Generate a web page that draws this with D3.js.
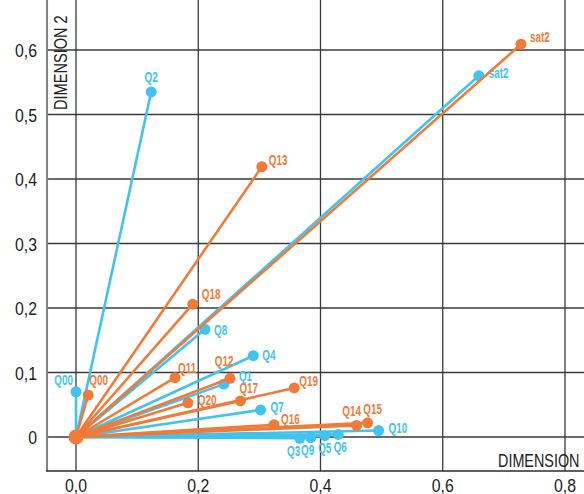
<!DOCTYPE html>
<html>
<head>
<meta charset="utf-8">
<script src="https://cdn.jsdelivr.net/npm/d3@7"></script>
<style>
  html, body { margin: 0; padding: 0; background: #fff; }
  svg { display: block; }
  text { font-family: "Liberation Sans", Arial, sans-serif; }
</style>
</head>
<body>
<svg id="chart" width="584" height="494"></svg>
<script>
// series 1 (blue)
const blueNames = ['Q00', 'Q2', 'Q8', 'Q4', 'Q1', 'Q7', 'Q3', 'Q9', 'Q5', 'Q6', 'Q10', 'sat2']
const blueX = [0.0, 0.123, 0.211, 0.290, 0.242, 0.302, 0.366, 0.384, 0.407, 0.429, 0.495, 0.659]
const blueY = [0.070, 0.535, 0.167, 0.126, 0.082, 0.042, -0.002, -0.001, 0.002, 0.004, 0.010, 0.560]

// series 2 (orange)
const orangeNames = ['Q00', 'Q11', 'Q12', 'Q20', 'Q17', 'Q19', 'Q16', 'Q14', 'Q15', 'Q18', 'Q13', 'sat2']
const orangeX = [0.020, 0.162, 0.252, 0.183, 0.269, 0.357, 0.324, 0.459, 0.477, 0.191, 0.304, 0.728]
const orangeY = [0.065, 0.092, 0.091, 0.053, 0.056, 0.076, 0.019, 0.018, 0.022, 0.206, 0.419, 0.609]

const xTicks = [0, 0.2, 0.4, 0.6, 0.8]
const yTicks = [0, 0.1, 0.2, 0.3, 0.4, 0.5, 0.6]

// label offsets relative to the dot: [dx, dy, anchor]
const blueLabelPos = {
  Q00: [-3, -7, 'end'], Q2: [0, -10, 'middle'], Q8: [9, 6, 'start'], Q4: [9, 4, 'start'],
  Q1: [15, -3, 'start'], Q7: [10, 2, 'start'], Q3: [-6, 18, 'middle'], Q9: [-3, 17, 'middle'],
  Q5: [0, 17, 'middle'], Q6: [2, 18, 'middle'], Q10: [10, 2, 'start'], sat2: [10, 2, 'start']
}
const orangeLabelPos = {
  Q00: [1, -10, 'start'], Q11: [3, -5, 'start'], Q12: [-6, -12, 'middle'], Q20: [10, 2, 'start'],
  Q17: [-1, -8, 'start'], Q19: [5, -2, 'start'], Q16: [7, -1, 'start'], Q14: [-5, -9, 'middle'],
  Q15: [5, -9, 'middle'], Q18: [9, -5, 'start'], Q13: [7, -2, 'start'], sat2: [9, -2, 'start']
}

const blue = '#41c3ef'
const orange = '#f07b38'

const svg = d3.select('#chart')
const x = d3.scaleLinear().domain([0, 0.8]).range([76, 565])
const y = d3.scaleLinear().domain([0, 0.6]).range([437, 50])

const plotLeft = x(-0.0474)
const plotBottom = y(-0.0527)
const plotRight = 584
const plotTop = 0

// condensed look: squeeze text horizontally
const squeeze = (tx, ty, sx) => `translate(${tx},${ty}) scale(${sx},1)`

// grid
const grid = svg.append('g').attr('class', 'grid')
grid.selectAll('.vgrid')
  .data(xTicks)
  .enter()
  .append('line')
  .attr('x1', d => x(d)).attr('x2', d => x(d))
  .attr('y1', plotTop).attr('y2', plotBottom)
  .style('stroke', '#3a3a3a')
  .style('stroke-width', 1.3)
grid.selectAll('.hgrid')
  .data(yTicks)
  .enter()
  .append('line')
  .attr('x1', plotLeft).attr('x2', plotRight)
  .attr('y1', d => y(d)).attr('y2', d => y(d))
  .style('stroke', '#3a3a3a')
  .style('stroke-width', 1.3)

// frame
svg.append('line')
  .attr('x1', plotLeft).attr('x2', plotLeft).attr('y1', plotTop).attr('y2', plotBottom)
  .style('stroke', '#808080').style('stroke-width', 2)
svg.append('line')
  .attr('x1', plotLeft - 1).attr('x2', plotRight).attr('y1', plotBottom).attr('y2', plotBottom)
  .style('stroke', '#2a2a2a').style('stroke-width', 1.6)

// tick labels
const fmt = d => d === 0 ? '0' : d3.format('.1f')(d).replace('.', ',')
svg.append('g').selectAll('text')
  .data(yTicks)
  .enter()
  .append('text')
  .attr('transform', d => squeeze(37, y(d) + 7, 0.88))
  .attr('text-anchor', 'end')
  .style('font-size', '18px')
  .style('fill', '#222')
  .text(fmt)
svg.append('g').selectAll('text')
  .data(xTicks)
  .enter()
  .append('text')
  .attr('transform', d => squeeze(x(d), 492, 0.88))
  .attr('text-anchor', 'middle')
  .style('font-size', '18px')
  .style('fill', '#222')
  .text(d => d3.format('.1f')(d).replace('.', ','))

// axis titles
svg.append('text')
  .attr('transform', `translate(67, 110) rotate(-90) scale(0.81,1)`)
  .style('font-size', '18px')
  .style('fill', '#222')
  .text('DIMENSION 2')
svg.append('text')
  .attr('transform', squeeze(498, 467, 0.8))
  .style('font-size', '18px')
  .style('fill', '#222')
  .text('DIMENSION 1')

function drawSeries(names, xs, ys, color, labelPos) {
  const pts = names.map((n, i) => ({ name: n, x: xs[i], y: ys[i] }))
  const g = svg.append('g')
  g.selectAll('.ray')
    .data(pts)
    .enter()
    .append('line')
    .attr('x1', x(0)).attr('y1', y(0))
    .attr('x2', d => x(d.x)).attr('y2', d => y(d.y))
    .style('stroke', color)
    .style('stroke-width', 2.6)
  g.selectAll('.dot')
    .data(pts)
    .enter()
    .append('circle')
    .attr('cx', d => x(d.x)).attr('cy', d => y(d.y))
    .attr('r', 5.5)
    .style('fill', color)
  g.selectAll('.lab')
    .data(pts)
    .enter()
    .append('text')
    .attr('transform', d => squeeze(x(d.x) + labelPos[d.name][0], y(d.y) + labelPos[d.name][1], 0.66))
    .attr('text-anchor', d => labelPos[d.name][2])
    .style('font-size', '15px')
    .style('font-weight', 'bold')
    .style('fill', color)
    .text(d => d.name)
}

drawSeries(blueNames, blueX, blueY, blue, blueLabelPos)
drawSeries(orangeNames, orangeX, orangeY, orange, orangeLabelPos)

// origin
svg.append('circle')
  .attr('cx', x(0)).attr('cy', y(0))
  .attr('r', 7.5)
  .style('fill', orange)
</script>
</body>
</html>
